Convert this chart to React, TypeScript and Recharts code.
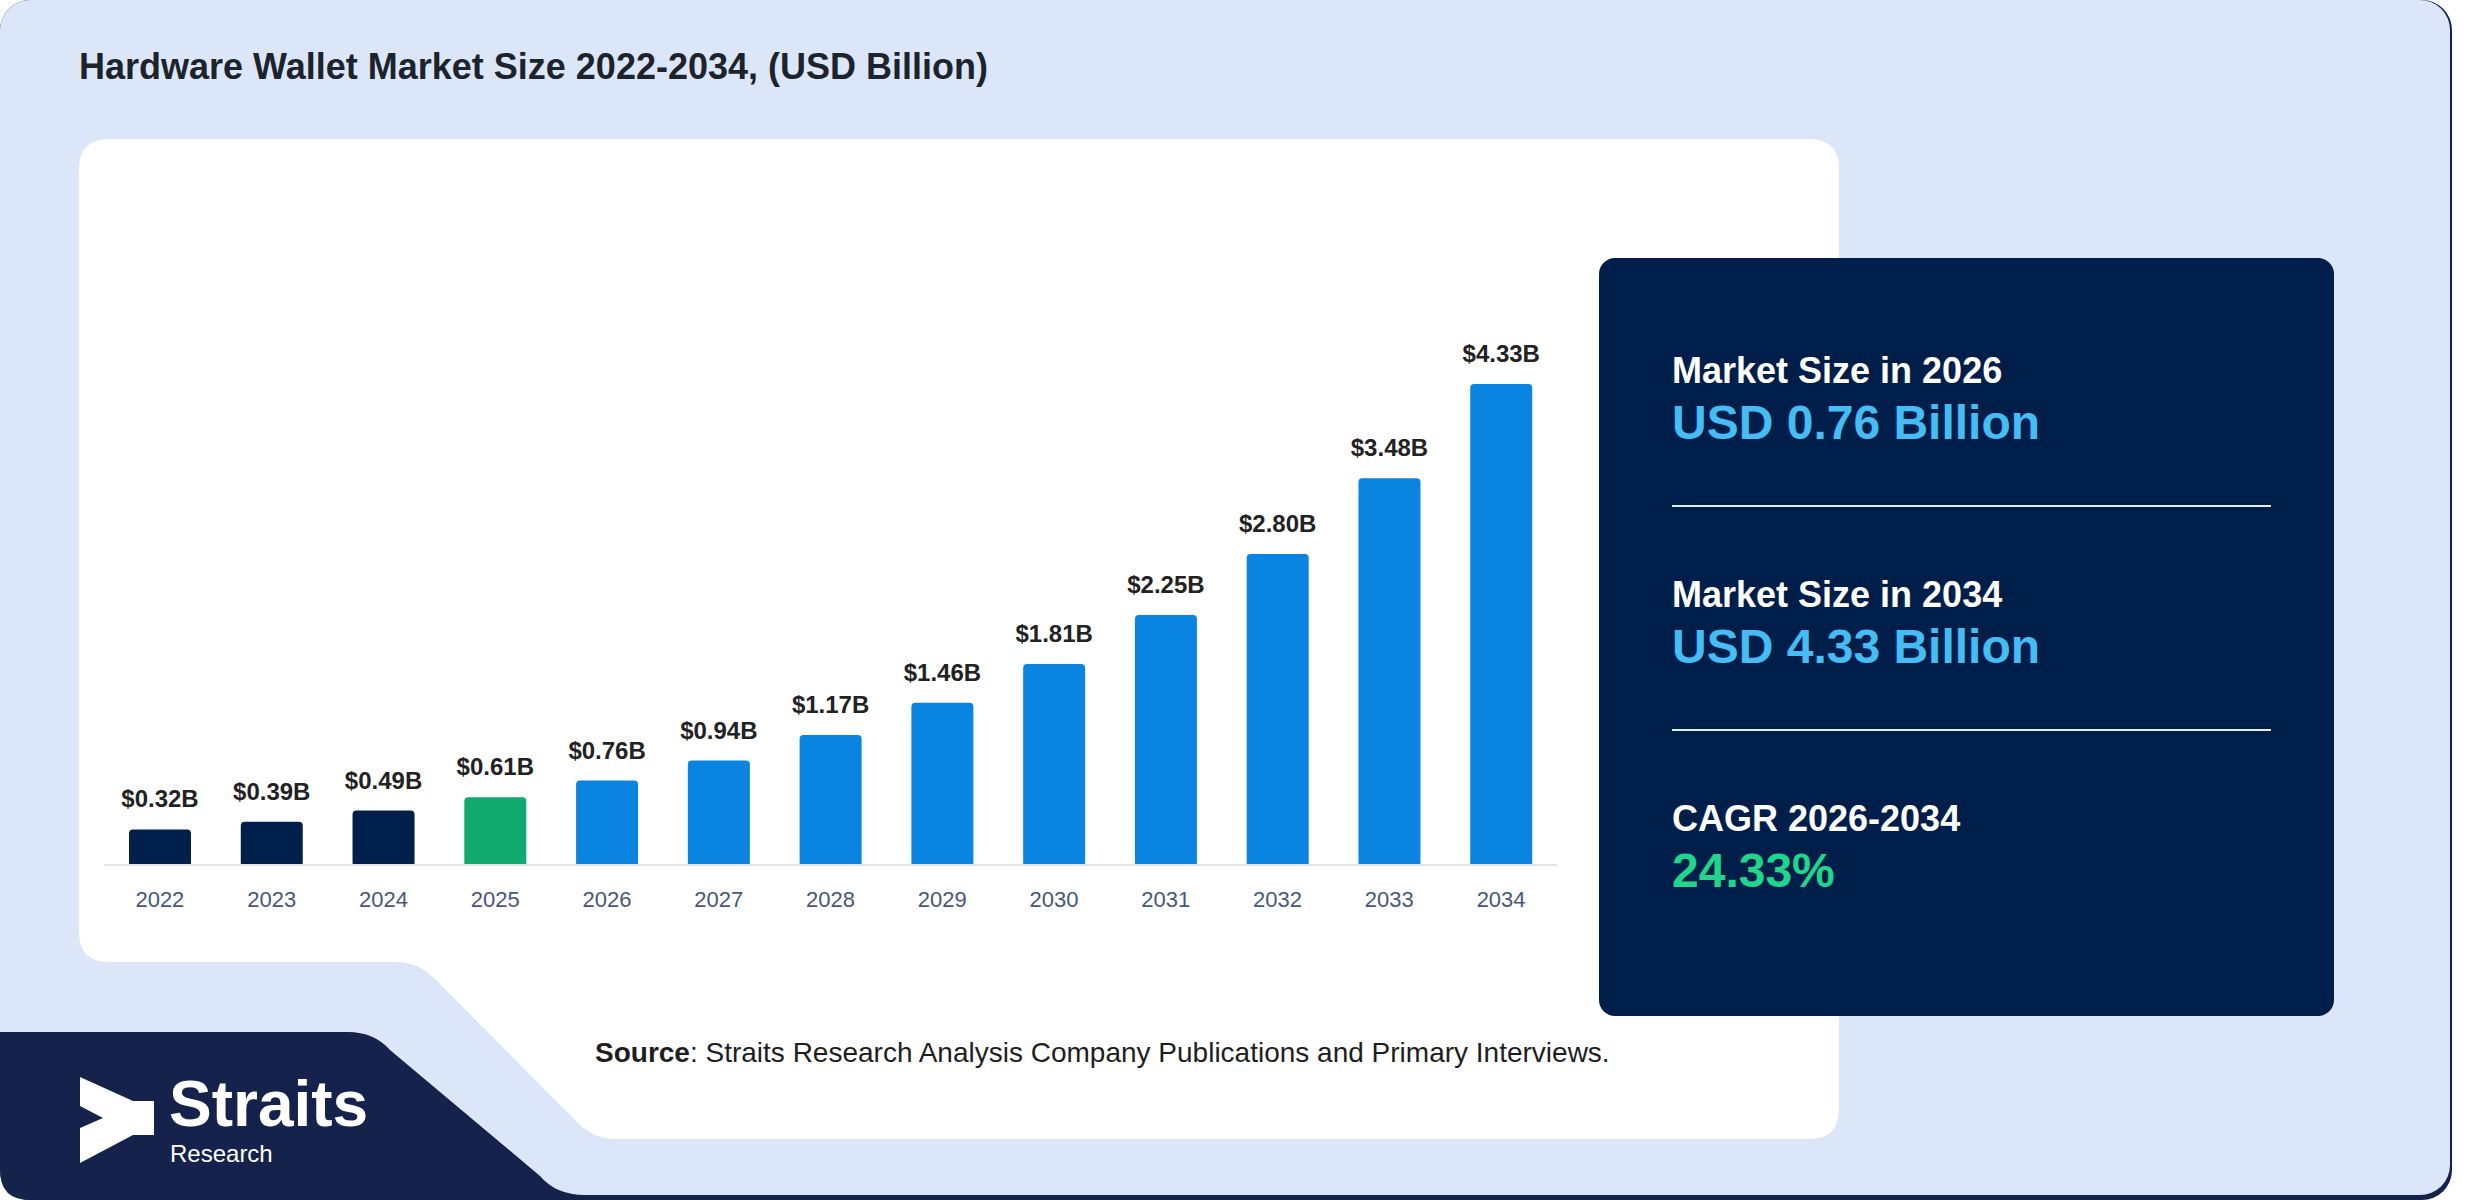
import React from 'react';
import { BarChart, Bar, XAxis, YAxis, LabelList, Cell } from 'recharts';

const years = ['2022', '2023', '2024', '2025', '2026', '2027', '2028', '2029', '2030', '2031', '2032', '2033', '2034'];
const marketSize = [0.32, 0.39, 0.49, 0.61, 0.76, 0.94, 1.17, 1.46, 1.81, 2.25, 2.8, 3.48, 4.33];
const historicalYears = ['2022', '2023', '2024'];
const baseYear = '2025';

const titleText = 'Hardware Wallet Market Size 2022-2034, (USD Billion)';
const statLabels = ['Market Size in 2026', 'Market Size in 2034', 'CAGR 2026-2034'];
const statValues = ['USD 0.76 Billion', 'USD 4.33 Billion', '24.33%'];

const data = years.map((y, i) => ({ year: y, value: marketSize[i] }));

const FONT = '"Liberation Sans", Arial, Helvetica, sans-serif';
const NAVY = '#001f4b';
const GREEN = '#10a96f';
const BLUE = '#0a84e1';

const colorFor = (year: string) =>
  historicalYears.includes(year) ? NAVY : year === baseYear ? GREEN : BLUE;

export default function App() {
  return (
    <div style={{ position: 'absolute', left: 0, top: 0, width: 2480, height: 1200, background: '#ffffff', overflow: 'hidden' }}>
      <svg width={2480} height={1200} style={{ position: 'absolute', left: 0, top: 0 }}>
        <rect x={0} y={0} width={2452} height={1200} rx={30} fill="#14224c" />
        <rect x={0} y={0} width={2450} height={1195} rx={30} fill="#dbe7f8" />
        <path
          d="M0,1032 L348,1032 Q374,1032 390,1050 L540,1176 Q556,1195 585,1195 L585,1200 L30,1200 Q0,1200 0,1170 Z"
          fill="#14224c"
        />
        <path
          d="M109,139 L1809,139 Q1839,139 1839,169 L1839,1109 Q1839,1139 1809,1139 L616,1139 Q594,1139 578,1123 L434,978 Q418,962 396,962 L109,962 Q79,962 79,932 L79,169 Q79,139 109,139 Z"
          fill="#ffffff"
        />
        <text x={79} y={79} fontFamily={FONT} fontWeight="bold" fontSize={36} fill="#1d232d">
          {titleText}
        </text>
        <text x={595} y={1062} fontFamily={FONT} fontSize={28} fill="#1e1e1e">
          <tspan fontWeight="bold">Source</tspan>
          <tspan>: Straits Research Analysis Company Publications and Primary Interviews.</tspan>
        </text>
        <rect x={1599} y={258} width={735} height={758} rx={16} fill="#001e4a" />
        {statLabels.map((lab, i) => (
          <g key={lab}>
            <text x={1672} y={383 + i * 224} fontFamily={FONT} fontWeight="bold" fontSize={36} fill="#ffffff">
              {lab}
            </text>
            <text
              x={1672}
              y={439 + i * 224}
              fontFamily={FONT}
              fontWeight="bold"
              fontSize={48}
              fill={i === 2 ? '#1fd68c' : '#45bdf4'}
            >
              {statValues[i]}
            </text>
          </g>
        ))}
        <rect x={1672} y={505} width={599} height={2} fill="#e6ecf5" />
        <rect x={1672} y={729} width={599} height={2} fill="#e6ecf5" />
        <polygon
          points="80,1077 133,1101 154,1101 154,1135 133,1135 80,1163 80,1128 103,1118 80,1106"
          fill="#ffffff"
        />
        <text x={169} y={1126} fontFamily={FONT} fontWeight="bold" fontSize={64} fill="#ffffff">
          Straits
        </text>
        <text x={170} y={1162} fontFamily={FONT} fontSize={24} fill="#ffffff">
          Research
        </text>
      </svg>
      <div style={{ position: 'absolute', left: 0, top: 0 }}>
        <BarChart
          width={1590}
          height={1000}
          data={data}
          margin={{ top: 309.5, right: 33, left: 104, bottom: 95 }}
        >
          <XAxis
            dataKey="year"
            height={40}
            interval={0}
            tickLine={false}
            tickMargin={20}
            axisLine={{ stroke: '#e2e4e8', strokeWidth: 2 }}
            tick={{ fill: '#46587a', fontSize: 22, fontFamily: FONT }}
          />
          <YAxis hide domain={[0, 5]} />
          <Bar dataKey="value" barSize={62} radius={[4, 4, 2, 2]} isAnimationActive={false}>
            {data.map((d) => (
              <Cell key={d.year} fill={colorFor(d.year)} />
            ))}
            <LabelList
              dataKey="value"
              position="top"
              offset={22}
              formatter={(v: number) => `$${Number(v).toFixed(2)}B`}
              style={{ fill: '#222222', fontSize: 24, fontWeight: 'bold', fontFamily: FONT }}
            />
          </Bar>
        </BarChart>
      </div>
    </div>
  );
}
